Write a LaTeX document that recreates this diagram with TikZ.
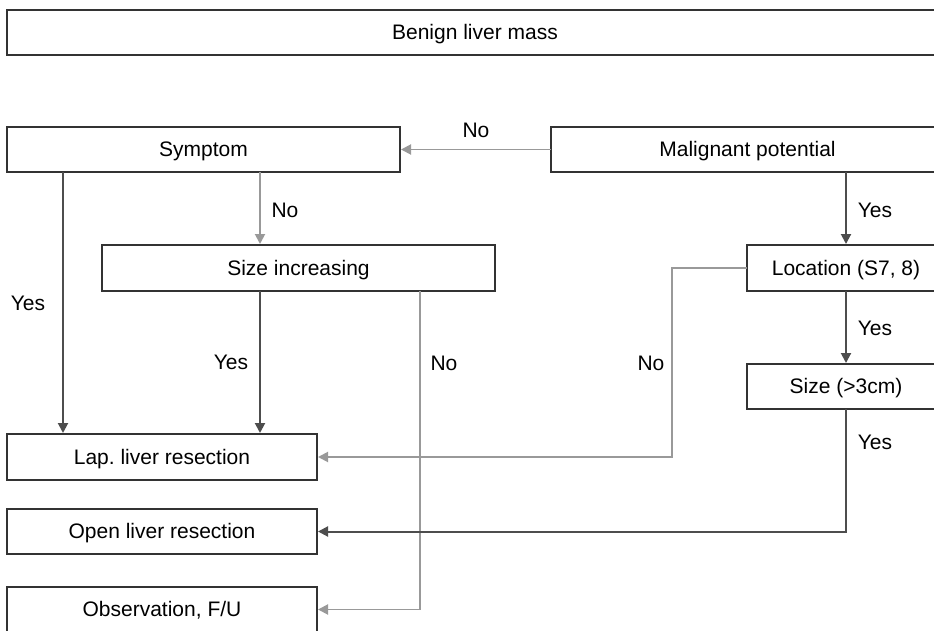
\documentclass[tikz,border=0pt]{standalone}
\usepackage{fontspec}
\setmainfont{Liberation Sans}
\usetikzlibrary{arrows.meta}
\definecolor{darkln}{HTML}{4D4D4D}
\definecolor{grayln}{HTML}{999999}
\definecolor{boxln}{HTML}{333333}
\tikzset{
  box/.style={draw=boxln, line width=1.4pt, rectangle, inner sep=0pt, outer sep=0pt,
    anchor=north west, font=\fontsize{21}{25}\selectfont, text depth=1pt},
  lbl/.style={font=\fontsize{21}{25}\selectfont, inner sep=0pt},
  darkarrow/.style={draw=darkln, line width=2pt, -{Triangle[length=10pt,width=10pt]}, shorten >=1pt},
  grayarrow/.style={draw=grayln, line width=1.9pt, -{Triangle[length=10pt,width=10pt]}, shorten >=1pt},
}
\begin{document}
\begin{tikzpicture}[x=1pt,y=-1pt]
\useasboundingbox (0,0) rectangle (934,631);
\clip (0,0) rectangle (934,631);
\fill[white] (0,0) rectangle (934,631);
% boxes
\node[box, minimum width=936pt, minimum height=45pt] (ben) at (7,10) {Benign liver mass};
\node[box, minimum width=393pt, minimum height=45pt] (sym) at (7,127) {Symptom};
\node[box, minimum width=393pt, minimum height=45pt] (mal) at (551,127) {Malignant potential};
\node[box, minimum width=393pt, minimum height=46pt] (siz) at (102,245) {Size increasing};
\node[box, minimum width=198pt, minimum height=46pt] (loc) at (747,245) {Location (S7, 8)};
\node[box, minimum width=198pt, minimum height=45pt] (sz) at (747,364) {Size (>3cm)};
\node[box, minimum width=310pt, minimum height=46pt] (lap) at (7,434) {Lap.\ liver resection};
\node[box, minimum width=310pt, minimum height=45pt] (open) at (7,509) {Open liver resection};
\node[box, minimum width=310pt, minimum height=45pt] (obs) at (7,587) {Observation, F/U};
% column guides
\coordinate (xa) at (63,0);
\coordinate (xb) at (260,0);
\coordinate (xc) at (420,0);
\coordinate (xd) at (672,0);
\coordinate (xe) at (846,0);
% connectors
\draw[grayarrow] (mal.west) -- (sym.east);
\draw[darkarrow] (sym.south -| xa) -- (lap.north -| xa);
\draw[grayarrow] (sym.south -| xb) -- (siz.north -| xb);
\draw[darkarrow] (siz.south -| xb) -- (lap.north -| xb);
\draw[grayarrow] (siz.south -| xc) |- (obs.east);
\draw[darkarrow] (mal.south -| xe) -- (loc.north -| xe);
\draw[grayarrow] (loc.west) -- (loc.west -| xd) |- (lap.east);
\draw[darkarrow] (loc.south -| xe) -- (sz.north -| xe);
\draw[darkarrow] (sz.south -| xe) |- (open.east);
% labels
\node[lbl] (l1) at (476,130) {No};
\node[lbl] (l2) at (285,210) {No};
\node[lbl] (l3) at (28,303) {Yes};
\node[lbl] (l4) at (231,362) {Yes};
\node[lbl] (l5) at (444,363) {No};
\node[lbl] (l6) at (651,363) {No};
\node[lbl] (l7) at (875,210) {Yes};
\node[lbl] (l8) at (875,328) {Yes};
\node[lbl] (l9) at (875,442) {Yes};
\end{tikzpicture}
\end{document}
